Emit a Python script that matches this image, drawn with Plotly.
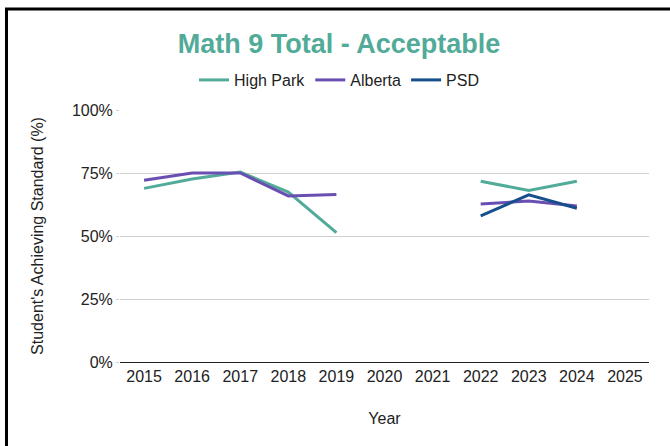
import plotly.graph_objects as go

years = ["2015", "2016", "2017", "2018", "2019", "2020", "2021", "2022", "2023", "2024", "2025"]
high_park = [68.9, 72.6, 75.4, 67.4, 51.3, None, None, 71.7, 68.1, 71.7, None]
alberta = [72.1, 75.0, 75.0, 65.9, 66.5, None, None, 62.7, 63.9, 61.9, None]
psd = [None, None, None, None, None, None, None, 58.0, 66.3, 61.0, None]

series = [("High Park", high_park, "#52ab98"), ("Alberta", alberta, "#6a4fb3"), ("PSD", psd, "#164f8c")]

fig = go.Figure()
for name, vals, color in series:
    fig.add_trace(go.Scatter(
        x=years, y=[v / 100 if v is not None else None for v in vals],
        mode="lines", name=name, line=dict(color=color, width=3),
        connectgaps=False,
    ))

fig.update_layout(
    width=670, height=446,
    margin=dict(l=120, r=21, t=110, b=84, autoexpand=False),
    paper_bgcolor="white", plot_bgcolor="white",
    font=dict(family="Liberation Sans, Arial, sans-serif", size=16, color="#222222"),
    title=dict(text="<b>Math 9 Total - Acceptable</b>", font=dict(size=27, color="#52ab98"),
               x=0.506, xanchor="center", xref="container",
               y=1 - 44 / 446, yanchor="middle", yref="container"),
    legend=dict(orientation="h", x=0.506, xanchor="center", xref="container",
                y=1 - 80 / 446, yanchor="middle", yref="container",
                font=dict(size=16), itemwidth=30, tracegroupgap=0),
    showlegend=True,
)
fig.update_xaxes(type="category", range=[-0.5, 10.5], showgrid=False, showline=True,
                 linecolor="#222222", linewidth=1, ticks="", tickfont=dict(size=16),
                 title=dict(text="Year", font=dict(size=16), standoff=28))
fig.update_yaxes(range=[0, 1], dtick=0.25, tickformat=".0%", showgrid=True, gridcolor="#d0d0d0",
                 zeroline=False, showline=False, ticks="outside", ticklen=3, tickcolor="#d0d0d0",
                 tickfont=dict(size=16),
                 title=dict(text="Student's Achieving Standard (%)", font=dict(size=16), standoff=24))

# frame border
fig.add_shape(type="rect", xref="paper", yref="paper",
              x0=(6.5 - 120) / 529, x1=1.2, y0=-0.5, y1=(362 - 9) / 252,
              line=dict(color="black", width=3), fillcolor="rgba(0,0,0,0)", layer="above")

fig.write_html("out.html", config={"displayModeBar": False},
               post_script="document.body.style.margin='0';")
